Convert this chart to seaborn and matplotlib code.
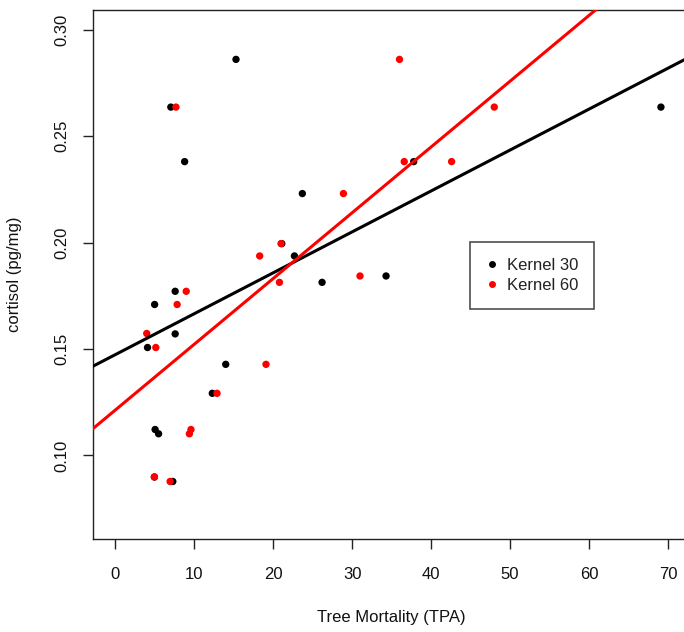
import matplotlib
matplotlib.use("Agg")
import matplotlib.pyplot as plt
from matplotlib.lines import Line2D
import numpy as np
import pandas as pd
import seaborn as sns

# Tree mortality (TPA) at two kernel widths, with the matching cortisol level
tpa_kernel30 = [15.3, 7.05, 69.1, 8.8, 37.8, 23.7, 21.1, 22.7, 34.3, 26.2,
                7.6, 5.0, 7.6, 4.1, 14.0, 12.3, 5.06, 5.5, 4.97, 7.3]
cortisol_kernel30 = [0.286, 0.2636, 0.2636, 0.238, 0.238, 0.223, 0.1995, 0.1937,
                     0.1843, 0.1813, 0.1771, 0.1709, 0.1571, 0.1507, 0.1428,
                     0.1292, 0.1122, 0.1102, 0.0899, 0.0878]

tpa_kernel60 = [36.0, 7.7, 48.0, 36.6, 42.6, 28.9, 21.0, 18.3, 31.0, 20.8,
                9.0, 7.85, 4.0, 5.15, 19.1, 12.9, 9.6, 9.4, 4.97, 6.96]
cortisol_kernel60 = [0.286, 0.2636, 0.2636, 0.238, 0.238, 0.223, 0.1995, 0.1937,
                     0.1843, 0.1813, 0.1771, 0.1709, 0.1573, 0.1507, 0.1428,
                     0.1292, 0.1122, 0.1102, 0.0899, 0.0878]

series_names = ["Kernel 30", "Kernel 60"]
series_colors = ["black", "red"]
x_ticks = [0, 10, 20, 30, 40, 50, 60, 70]
y_ticks = [0.10, 0.15, 0.20, 0.25, 0.30]

df = pd.concat([
    pd.DataFrame({"tpa": tpa_kernel30, "cortisol": cortisol_kernel30, "kernel": series_names[0]}),
    pd.DataFrame({"tpa": tpa_kernel60, "cortisol": cortisol_kernel60, "kernel": series_names[1]}),
], ignore_index=True)

sns.set_style("white")
plt.rcParams["font.family"] = ["Liberation Sans", "DejaVu Sans"]

fig = plt.figure(figsize=(6.84, 6.32), dpi=100)
ax = fig.add_axes([0.136, 0.1472, 0.873, 0.837])

# axis ranges padded 4% like base R
xr = (0, 70)
yr = (0.07, 0.30)
xlim = (xr[0] - 0.04 * (xr[1] - xr[0]), xr[1] + 0.04 * (xr[1] - xr[0]))
ylim = (yr[0] - 0.04 * (yr[1] - yr[0]), yr[1] + 0.04 * (yr[1] - yr[0]))
ax.set_xlim(*xlim)
ax.set_ylim(*ylim)

sns.scatterplot(data=df, x="tpa", y="cortisol", hue="kernel",
                hue_order=series_names, palette=series_colors,
                s=28, linewidth=0, legend=False, ax=ax, zorder=3)

# least-squares fits spanning the whole axis
for name, color in zip(series_names, series_colors):
    sub = df[df["kernel"] == name]
    sns.regplot(data=sub, x="tpa", y="cortisol", scatter=False, ci=None,
                truncate=False, color=color, line_kws={"lw": 2.2, "zorder": 4},
                ax=ax)

ax.set_xlim(*xlim)
ax.set_ylim(*ylim)

ax.set_xticks(x_ticks)
ax.set_yticks(y_ticks)
ax.set_yticklabels([f"{v:.2f}" for v in y_ticks], rotation=90, va="center")
ax.tick_params(axis="both", direction="out", length=7.2, width=1.0,
               color="#222222", labelsize=12, labelcolor="#111111",
               left=True, bottom=True)
ax.tick_params(axis="x", pad=13)
ax.tick_params(axis="y", pad=9.5)

for sp in ax.spines.values():
    sp.set_visible(True)
    sp.set_color("#222222")
    sp.set_linewidth(1.0)

ax.set_xlabel("Tree Mortality (TPA)", fontsize=12, color="#111111")
ax.set_ylabel("cortisol (pg/mg)", fontsize=12, color="#111111")
ax.xaxis.set_label_coords(0.5, -0.1493)
ax.xaxis.label.set_va("center")
ax.yaxis.set_label_coords(-0.1307, 0.5)
ax.yaxis.label.set_va("center")

handles = [Line2D([0], [0], marker="o", linestyle="none", markersize=5,
                  markerfacecolor=c, markeredgewidth=0) for c in series_colors]
leg = ax.legend(handles, series_names, loc="upper left",
                bbox_to_anchor=(0.6315, 0.5614), borderaxespad=0,
                frameon=True, fancybox=False, fontsize=12,
                handlelength=0.7, handletextpad=0.55, borderpad=0.95,
                labelspacing=0.32)
leg.get_frame().set_edgecolor("#222222")
leg.get_frame().set_linewidth(1.2)
for t in leg.get_texts():
    t.set_color("#222222")

fig.savefig("out.png", dpi=100, facecolor="white")
